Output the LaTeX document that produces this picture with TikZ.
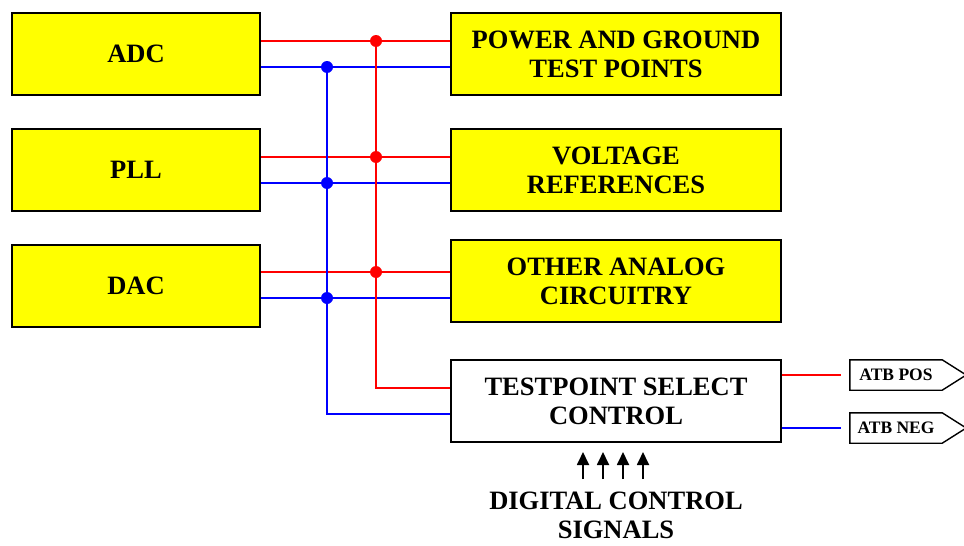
\documentclass[tikz,border=0pt]{standalone}
\usepackage{fontspec}
\setmainfont{Liberation Serif}
\usetikzlibrary{arrows.meta,calc}

\definecolor{blkyellow}{RGB}{255,255,0}
\tikzset{
  blk/.style={draw, line width=1.6pt, fill=blkyellow, minimum width=248pt, minimum height=82pt,
    inner sep=0pt, align=center, font=\fontsize{26.5}{29}\selectfont\bfseries},
  wblk/.style={blk, minimum width=330pt},
  rwire/.style={red, line width=1.6pt},
  bwire/.style={blue, line width=1.6pt},
  jdot/.style={circle, fill, inner sep=0pt, minimum size=12pt},
  tag/.style={minimum width=92pt, minimum height=30pt, inner sep=0pt,
    font=\fontsize{17.5}{19}\selectfont\bfseries},
  ctl/.style={-{Triangle[width=12pt,length=13pt]}, line width=1.8pt}
}

\begin{document}
\begin{tikzpicture}[x=1pt,y=-1pt]
\useasboundingbox (0,0) rectangle (964,546);

% blocks on the left
\node[blk] (adc) at (136,54) {ADC};
\node[blk] (pll) at (136,170) {PLL};
\node[blk] (dac) at (136,286) {DAC};

% blocks on the right
\node[wblk] (pwr) at (616,54) {POWER AND GROUND\\TEST POINTS};
\node[wblk] (vref) at (616,170) {VOLTAGE\\REFERENCES};
\node[wblk] (oth) at (616,281) {OTHER ANALOG\\CIRCUITRY};
\node[wblk, fill=white] (tsel) at (616,401) {TESTPOINT SELECT\\CONTROL};

% junctions
\coordinate[] (r1) at (376,41);
\coordinate[] (r2) at (376,157);
\coordinate[] (r3) at (376,272);
\coordinate[] (b1) at (327,67);
\coordinate[] (b2) at (327,183);
\coordinate[] (b3) at (327,298);

\draw[rwire] (adc.east |- r1) -- (pwr.west |- r1);
\draw[rwire] (pll.east |- r2) -- (vref.west |- r2);
\draw[rwire] (dac.east |- r3) -- (oth.west |- r3);
\draw[bwire] (adc.east |- b1) -- (pwr.west |- b1);
\draw[bwire] (pll.east |- b2) -- (vref.west |- b2);
\draw[bwire] (dac.east |- b3) -- (oth.west |- b3);

\draw[rwire] (r1) |- ($(tsel.west)+(0,-13)$);
\draw[bwire] (b1) |- ($(tsel.west)+(0,13)$);

\foreach \j in {r1,r2,r3} \node[jdot, red] at (\j) {};
\foreach \j in {b1,b2,b3} \node[jdot, blue] at (\j) {};

% outputs
\node[tag] (pos) at (896,375) {ATB POS};
\node[tag] (neg) at (896,428) {ATB NEG};
\foreach \t in {pos,neg}
  \draw[line width=1.4pt] (\t.north west) -- (\t.north east) -- ($(\t.east)+(24,0)$)
    -- (\t.south east) -- (\t.south west) -- cycle;
\draw[rwire, shorten >=9pt] (tsel.east |- pos.west) -- (pos.west);
\draw[bwire, shorten >=9pt] (tsel.east |- neg.west) -- (neg.west);

% control inputs
\foreach \i/\x in {1/583,2/603,3/623,4/643} {
  \coordinate[] (c\i) at (\x,479);
  \draw[ctl] (c\i) -- ++(0,-27);
}
\node[font=\fontsize{26.5}{29}\selectfont\bfseries, align=center] (dig) at (616,515) {DIGITAL CONTROL\\SIGNALS};

\end{tikzpicture}
\end{document}
